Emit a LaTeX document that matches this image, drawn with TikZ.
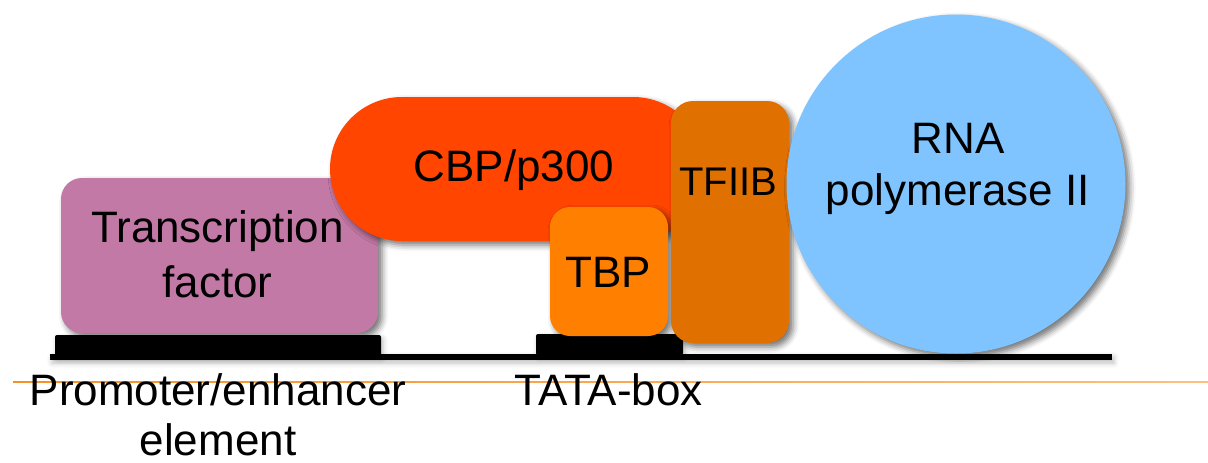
\documentclass[tikz,border=0pt]{standalone}
\usepackage{fontspec}
\setmainfont{Liberation Sans}
\usetikzlibrary{shadows.blur}
\definecolor{tfcol}{RGB}{194,121,166}
\definecolor{cbpcol}{RGB}{255,69,0}
\definecolor{tbpcol}{RGB}{255,128,0}
\definecolor{tfiibcol}{RGB}{224,112,0}
\definecolor{rnacol}{RGB}{128,196,255}
\definecolor{slideorangeA}{RGB}{245,145,40}
\definecolor{slideorangeB}{RGB}{253,192,125}
\begin{document}
\begin{tikzpicture}[x=1pt,y=-1pt,
  blob/.style={draw=none, inner sep=0pt, outer sep=0pt,
    blur shadow={shadow xshift=4pt, shadow yshift=-4pt, shadow blur radius=6pt, shadow opacity=55}},
  dnapart/.style={draw=none, fill=black, inner sep=0pt, outer sep=0pt,
    blur shadow={shadow xshift=2pt, shadow yshift=-3pt, shadow blur radius=5pt, shadow opacity=25}},
  lbl/.style={inner sep=0pt, outer sep=0pt, align=center, font=\fontsize{44}{52}\selectfont},
]
\useasboundingbox (0,0) rectangle (1208,463);
% slide rule
\shade[left color=slideorangeA, right color=slideorangeB] (13,381) rectangle (1208,382.6);
% DNA
\node[dnapart, minimum width=1062pt, minimum height=6pt] (dna) at (581,357) {};
\node[dnapart, rounded corners=2pt, minimum width=326pt, minimum height=21pt] (prom) at (218,345.5) {};
\node[dnapart, rounded corners=2pt, minimum width=147pt, minimum height=21pt] (tata) at (609.5,344.5) {};
% proteins
\node[blob, fill=tfcol, rounded corners=21pt, minimum width=317pt, minimum height=155pt] (tf) at (219.5,255.5) {};
\node[blob, fill=cbpcol, rounded corners=72pt, minimum width=375pt, minimum height=144pt] (cbp) at (517.5,169) {};
\node[blob, fill=tbpcol, rounded corners=20pt, minimum width=118pt, minimum height=129pt] (tbp) at (609,271.5) {};
\node[blob, fill=tfiibcol, rounded corners=22pt, minimum width=118pt, minimum height=242pt] (tfiib) at (730,222) {};
\node[blob, fill=rnacol, circle, minimum size=339pt] (rna) at (956,184) {};
% labels
\node[lbl, anchor=north, font=\fontsize{44}{55}\selectfont] (tftext) at (217.5,211) {Transcription\\factor};
\node[lbl, anchor=base] (cbptext) at (514,181) {CBP/p300};
\node[lbl, anchor=base] (tbptext) at (608,287) {TBP};
\node[lbl, anchor=base, font=\fontsize{40}{48}\selectfont] (tfiibtext) at (728,195) {TFIIB};
\node[lbl, anchor=north, font=\fontsize{44}{52}\selectfont] (rnatext) at (958,123) {RNA\\polymerase II};
\node[lbl, anchor=north, font=\fontsize{44}{50}\selectfont] (promtext) at (218,374) {Promoter/enhancer\\element};
\node[lbl, anchor=base] (tatatext) at (608.5,405) {TATA-box};
\end{tikzpicture}
\end{document}
